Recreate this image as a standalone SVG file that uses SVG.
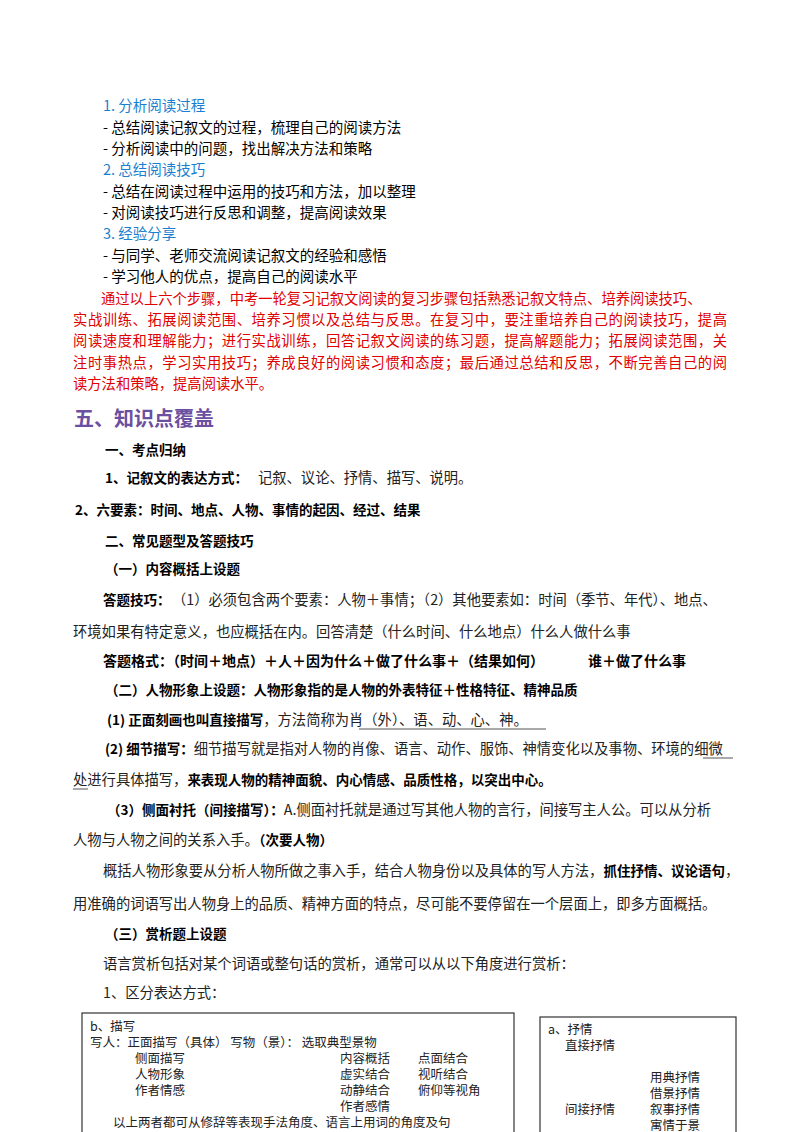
<svg xmlns="http://www.w3.org/2000/svg" width="800" height="1132" viewBox="0 0 800 1132">
<style>
text{font-family:"Noto Sans CJK SC",sans-serif;font-size:14.5px;fill:#000}
.b{fill:#1a7fd0}
.r{fill:#e00000;font-size:14.3px}
.s{font-size:14.3px;fill:#222;font-weight:normal}
.k{font-weight:bold;font-size:13.5px;fill:#000}
.x{font-size:12.5px;fill:#222}
</style>
<rect width="800" height="1132" fill="#fff"/>
<g id="steps">
<text class="b" x="103" y="111">1. 分析阅读过程</text>
<text x="103" y="133">- 总结阅读记叙文的过程，梳理自己的阅读方法</text>
<text x="103" y="154">- 分析阅读中的问题，找出解决方法和策略</text>
<text class="b" x="103" y="175">2. 总结阅读技巧</text>
<text x="103" y="197">- 总结在阅读过程中运用的技巧和方法，加以整理</text>
<text x="103" y="218">- 对阅读技巧进行反思和调整，提高阅读效果</text>
<text class="b" x="103" y="239">3. 经验分享</text>
<text x="103" y="261">- 与同学、老师交流阅读记叙文的经验和感悟</text>
<text x="103" y="282">- 学习他人的优点，提高自己的阅读水平</text>
</g>
<g id="summary">
<text class="r" x="101" y="304">通过以上六个步骤，中考一轮复习记叙文阅读的复习步骤包括熟悉记叙文特点、培养阅读技巧、</text>
<text class="r" x="73" y="325" textLength="654">实战训练、拓展阅读范围、培养习惯以及总结与反思。在复习中，要注重培养自己的阅读技巧，提高</text>
<text class="r" x="73" y="346" textLength="654">阅读速度和理解能力；进行实战训练，回答记叙文阅读的练习题，提高解题能力；拓展阅读范围，关</text>
<text class="r" x="73" y="368" textLength="654">注时事热点，学习实用技巧；养成良好的阅读习惯和态度；最后通过总结和反思，不断完善自己的阅</text>
<text class="r" x="73" y="389">读方法和策略，提高阅读水平。</text>
</g>
<text x="74" y="426" style="fill:#6b4fa0;font-size:20px;font-weight:bold">五、知识点覆盖</text>
<g id="body">
<text class="k" x="105" y="455">一、考点归纳</text>
<text class="k" x="105" y="483">1、记叙文的表达方式：<tspan class="s" dx="10">记叙、议论、抒情、描写、说明。</tspan></text>
<text class="k" x="75" y="515">2、六要素：时间、地点、人物、事情的起因、经过、结果</text>
<text class="k" x="105" y="546">二、常见题型及答题技巧</text>
<text class="k" x="105" y="574">（一）内容概括上设题</text>
<text class="k" x="103" y="605">答题技巧：<tspan class="s" x="172">（1）必须包含两个要素：人物＋事情；（2）其他要素如：时间（季节、年代）、地点、</tspan></text>
<text class="s" x="73" y="637">环境如果有特定意义，也应概括在内。回答清楚（什么时间、什么地点）什么人做什么事</text>
<text class="k" x="103" y="666" style="font-size:14px">答题格式：（时间＋地点）＋人＋因为什么＋做了什么事＋（结果如何）</text>
<text class="k" x="588" y="666" style="font-size:14px">谁＋做了什么事</text>
<text class="k" x="105" y="695">（二）人物形象上设题：人物形象指的是人物的外表特征＋性格特征、精神品质</text>
<text class="k" x="107" y="725">(1) 正面刻画也叫直接描写<tspan class="s">，方法简称为肖（外）、语、动、心、神。</tspan></text>
<line x1="359" y1="729" x2="546" y2="729" stroke="#555" stroke-width="1"/>
<text class="k" x="105" y="754">(2) 细节描写：<tspan class="s">细节描写就是指对人物的肖像、语言、动作、服饰、神情变化以及事物、环境的细微</tspan></text>
<line x1="703" y1="758" x2="733" y2="758" stroke="#555"/>
<text class="s" x="73" y="785">处进行具体描写，<tspan class="k">来表现人物的精神面貌、内心情感、品质性格，以突出中心。</tspan></text>
<line x1="73" y1="789" x2="88" y2="789" stroke="#555"/>
<text class="k" x="107" y="815">（3）侧面衬托（间接描写）：<tspan class="s">A.侧面衬托就是通过写其他人物的言行，间接写主人公。可以从分析</tspan></text>
<text class="s" x="73" y="845">人物与人物之间的关系入手。<tspan class="k">（次要人物）</tspan></text>
<text class="s" x="103" y="876">概括人物形象要从分析人物所做之事入手，结合人物身份以及具体的写人方法，<tspan class="k">抓住抒情、议论语句</tspan>，</text>
<text class="s" x="73" y="909">用准确的词语写出人物身上的品质、精神方面的特点，尽可能不要停留在一个层面上，即多方面概括。</text>
<text class="k" x="105" y="939">（三）赏析题上设题</text>
<text class="s" x="103" y="969">语言赏析包括对某个词语或整句话的赏析，通常可以从以下角度进行赏析：</text>
<text class="s" x="103" y="998">1、区分表达方式：</text>
</g>
<g id="box-desc">
<rect x="82" y="1013" width="432" height="130" fill="none" stroke="#333" stroke-width="1.2"/>
<text class="x" x="90" y="1031">b、描写</text>
<text class="x" x="90" y="1047">写人：正面描写（具体） 写物（景）： 选取典型景物</text>
<text class="x" x="135" y="1063">侧面描写</text>
<text class="x" x="340" y="1063">内容概括</text><text class="x" x="418" y="1063">点面结合</text>
<text class="x" x="135" y="1079">人物形象</text>
<text class="x" x="340" y="1079">虚实结合</text><text class="x" x="418" y="1079">视听结合</text>
<text class="x" x="135" y="1095">作者情感</text>
<text class="x" x="340" y="1095">动静结合</text><text class="x" x="418" y="1095">俯仰等视角</text>
<text class="x" x="340" y="1111">作者感情</text>
<text class="x" x="113" y="1127">以上两者都可从修辞等表现手法角度、语言上用词的角度及句</text>
</g>
<g id="box-lyric">
<rect x="540" y="1017" width="196" height="130" fill="none" stroke="#333" stroke-width="1.2"/>
<text class="x" x="548" y="1034">a、抒情</text>
<text class="x" x="565" y="1050">直接抒情</text>
<text class="x" x="650" y="1082">用典抒情</text>
<text class="x" x="650" y="1098">借景抒情</text>
<text class="x" x="565" y="1114">间接抒情</text>
<text class="x" x="650" y="1114">叙事抒情</text>
<text class="x" x="650" y="1130">寓情于景</text>
</g>
</svg>
